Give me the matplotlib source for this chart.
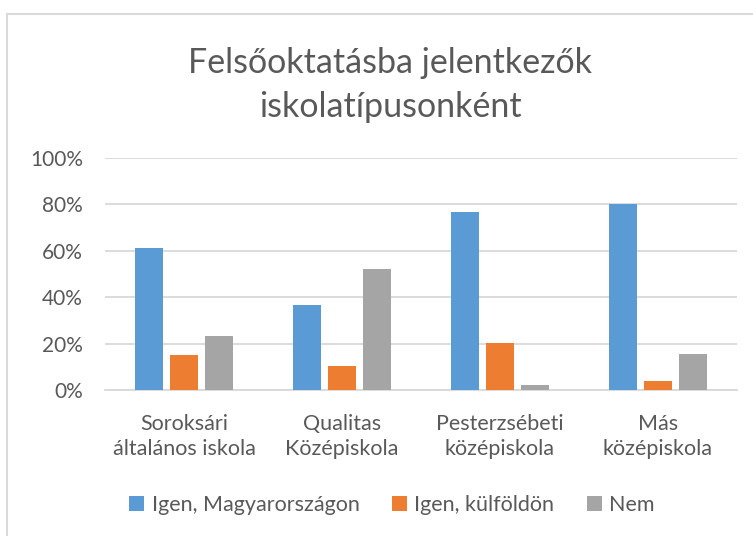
import matplotlib
matplotlib.use("Agg")
import matplotlib.pyplot as plt
from matplotlib.patches import Rectangle

plt.rcParams['font.family'] = ['Lato', 'DejaVu Sans']

categories = ["Soroksári\náltalános iskola", "Qualitas\nKözépiskola",
              "Pesterzsébeti\nközépiskola", "Más\nközépiskola"]
series_names = ["Igen, Magyarországon", "Igen, külföldön", "Nem"]
igen_magyar = [61, 36.6, 76.7, 80]
igen_kulfold = [15, 10.3, 20.2, 3.7]
nem = [23.3, 52.2, 2.1, 15.6]
yticks = [0, 20, 40, 60, 80, 100]
ytick_labels = ["0%", "20%", "40%", "60%", "80%", "100%"]
title = "Felsőoktatásba jelentkezők\niskolatípusonként"

colors = ["#5B9BD5", "#ED7D31", "#A5A5A5"]
text_color = "#595959"
grid_color = "#D9D9D9"

W, H = 753, 536
fig = plt.figure(figsize=(W / 100, H / 100), dpi=100)
fig.patch.set_facecolor("white")

# chart area border
fig.patches.append(Rectangle((7 / W, -0.1), 1.2, (H - 14) / H + 0.1,
                             transform=fig.transFigure, fill=False,
                             edgecolor=grid_color, linewidth=1.5))

ax = fig.add_axes([105 / W, (H - 390) / H, 632 / W, 232 / H])
ax.set_facecolor("none")

width = 0.175
spacing = 0.222
x = list(range(len(categories)))
for k, (vals, name) in enumerate(zip([igen_magyar, igen_kulfold, nem], series_names)):
    ax.bar([xi + (k - 1) * spacing for xi in x], vals, width=width,
           color=colors[k], label=name, zorder=3)

ax.set_xlim(-0.5, len(categories) - 0.5)
ax.set_ylim(0, 100)
ax.set_yticks(yticks)
ax.set_yticklabels(ytick_labels, fontsize=15, color=text_color)
ax.yaxis.grid(True, color=grid_color, linewidth=1.3, zorder=0)
ax.set_xticks(x)
ax.set_xticklabels(categories, fontsize=15.5, color=text_color, linespacing=1.35)
ax.tick_params(axis='both', length=0)
ax.tick_params(axis='x', pad=17)
ax.tick_params(axis='y', pad=16)
for s in ["top", "right", "left"]:
    ax.spines[s].set_visible(False)
ax.spines["bottom"].set_color(grid_color)
ax.spines["bottom"].set_linewidth(1.3)

fig.text(390 / W, 1 - 85 / H, title, ha="center", va="center",
         fontsize=24.5, color=text_color, linespacing=1.45)

leg = fig.legend(loc="center", bbox_to_anchor=(392 / W, 1 - 505 / H), ncol=3,
                 frameon=False, fontsize=15.5, handlelength=0.7, handleheight=0.7,
                 handletextpad=0.35, columnspacing=1.5)
for t in leg.get_texts():
    t.set_color(text_color)

fig.savefig("out.png", dpi=100)
